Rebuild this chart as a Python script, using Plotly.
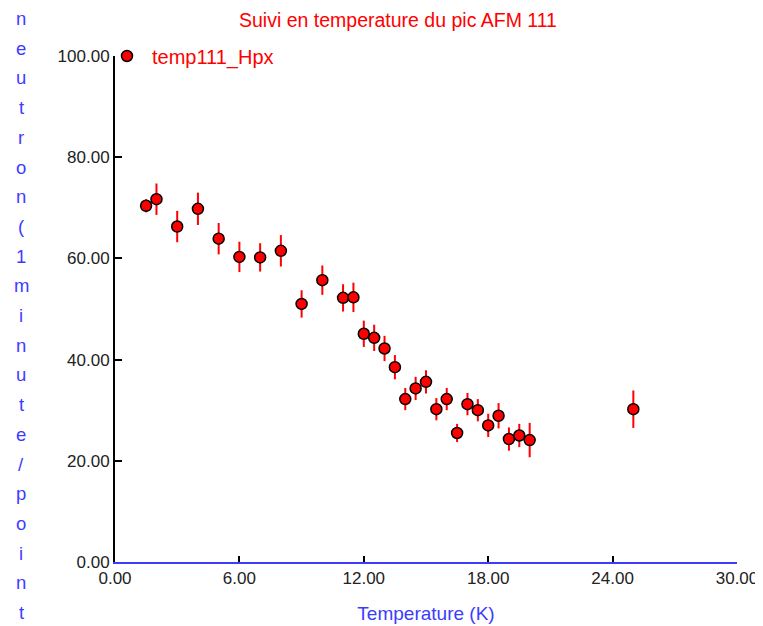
import plotly.graph_objects as go

temperature = [1.5, 2.0, 3.0, 4.0, 5.0, 6.0, 7.0, 8.0, 9.0, 10.0, 11.0, 11.5, 12.0, 12.5,
               13.0, 13.5, 14.0, 14.5, 15.0, 15.5, 16.0, 16.5, 17.0, 17.5, 18.0, 18.5,
               19.0, 19.5, 20.0, 25.0]
counts = [70.4, 71.7, 66.3, 69.8, 63.9, 60.3, 60.2, 61.5, 51.0, 55.7, 52.2, 52.3, 45.1, 44.3,
          42.2, 38.5, 32.2, 34.3, 35.6, 30.2, 32.2, 25.5, 31.2, 30.0, 27.0, 28.9,
          24.3, 25.0, 24.1, 30.2]
errors = [1.3, 3.1, 3.1, 3.2, 3.1, 3.0, 2.8, 3.1, 2.7, 2.9, 2.7, 2.9, 2.6, 2.6,
          2.5, 2.4, 2.2, 2.3, 2.3, 2.2, 2.2, 1.8, 2.2, 2.2, 2.3, 2.5,
          2.3, 2.3, 3.4, 3.7]

x_ticks = [0, 6, 12, 18, 24, 30]
y_ticks = [0, 20, 40, 60, 80, 100]

title_text = "Suivi en temperature du pic AFM 111"
x_title = "Temperature (K)"
y_title = "neutron(1minute/point"
series_name = "temp111_Hpx"

FONT = "Liberation Sans, Arial, sans-serif"
BLUE = "#3c3cff"

fig = go.Figure()
fig.add_trace(go.Scatter(
    x=temperature, y=counts, mode="markers", name=series_name,
    marker=dict(color="#ff0000", size=11, line=dict(color="black", width=1.5)),
    error_y=dict(type="data", array=errors, visible=True, color="#ff0000",
                 thickness=2, width=0),
    showlegend=True,
))

# page body has an 8px margin: figure occupies page (8,8)-(763,626)
OFF = 8
W, H = 763 - OFF, 626 - OFF
ml, mr, mt, mb = 115 - OFF, 763 - 737, 56 - OFF, 626 - 562
plot_h = H - mt - mb
plot_w = W - ml - mr

annotations = []
# vertical stacked y-axis title
first_base, step = 26 - OFF, 29.7
for i, ch in enumerate(y_title):
    base_px = first_base + i * step
    ypaper = (H - mb - base_px) / plot_h
    annotations.append(dict(
        text=ch, xref="paper", yref="paper", x=(21 - OFF - ml) / plot_w, y=ypaper,
        xanchor="center", yanchor="bottom", yshift=-5, showarrow=False,
        font=dict(family=FONT, size=18.5, color=BLUE),
    ))

fig.update_layout(
    width=W, height=H,
    margin=dict(l=ml, r=mr, t=mt, b=mb, autoexpand=False),
    paper_bgcolor="white", plot_bgcolor="white",
    font=dict(family=FONT),
    title=dict(text=title_text, x=((398 - OFF) / W), xanchor="center",
               y=1 - (20 - OFF) / H, yanchor="middle",
               font=dict(family=FONT, size=19.5, color="#ff0000"), automargin=False),
    xaxis=dict(
        range=[0, 30], tickvals=x_ticks, tickformat=".2f", automargin=False,
        showline=True, linecolor=BLUE, linewidth=2,
        ticks="inside", ticklen=6, tickcolor="black", tickwidth=1.5,
        showgrid=False, zeroline=False,
        tickfont=dict(family=FONT, size=17, color="#222222"),
        title=dict(text=x_title, font=dict(family=FONT, size=19, color=BLUE), standoff=19),
    ),
    yaxis=dict(
        range=[0, 100], tickvals=y_ticks, tickformat=".2f", automargin=False,
        showline=True, linecolor="black", linewidth=2,
        ticks="inside", ticklen=7, tickcolor="black", tickwidth=1.5,
        showgrid=False, zeroline=False,
        tickfont=dict(family=FONT, size=17, color="#222222"),
    ),
    legend=dict(x=-13 / plot_w, y=1.0, xanchor="left", yanchor="middle",
                itemwidth=40, bgcolor="rgba(0,0,0,0)",
                font=dict(family=FONT, size=20, color="#ff0000")),
    annotations=annotations,
)

fig.write_html("out.html")
